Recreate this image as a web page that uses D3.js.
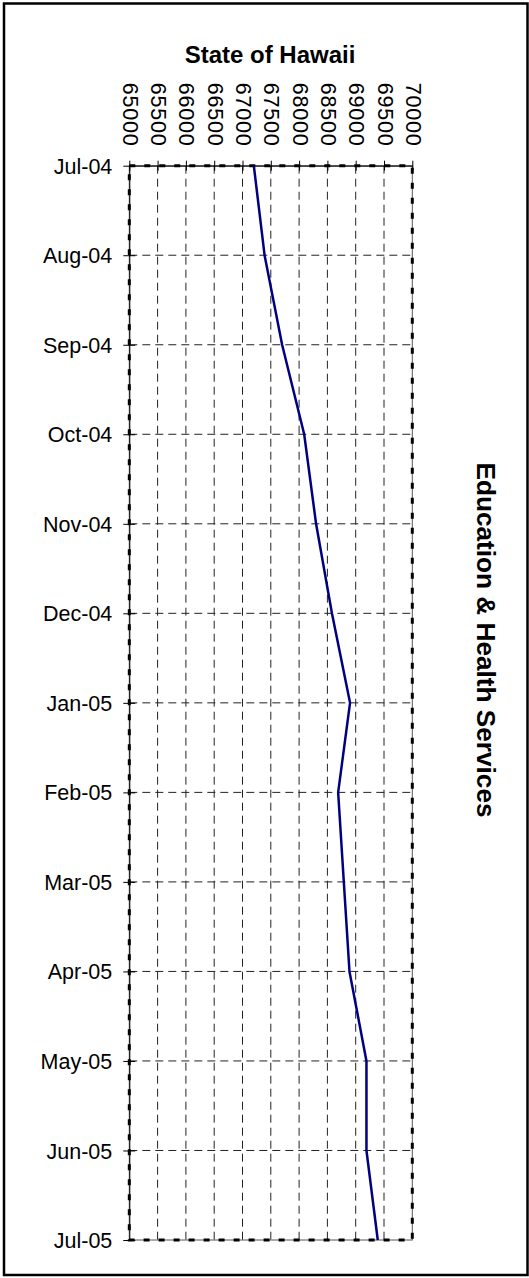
<!DOCTYPE html>
<html>
<head>
<meta charset="utf-8">
<script src="https://cdn.jsdelivr.net/npm/d3@7"></script>
<style>
  html, body { margin: 0; padding: 0; background: #fff; }
  svg { display: block; }
</style>
</head>
<body>
<svg id="chart" width="529" height="1278"></svg>
<script>
const months = ["Jul-04","Aug-04","Sep-04","Oct-04","Nov-04","Dec-04","Jan-05","Feb-05","Mar-05","Apr-05","May-05","Jun-05","Jul-05"];
const employment = [67200, 67390, 67700, 68090, 68300, 68580, 68900, 68690, 68790, 68890, 69190, 69190, 69390];
const xTicks = [65000, 65500, 66000, 66500, 67000, 67500, 68000, 68500, 69000, 69500, 70000];
const chartTitle = "State of Hawaii";
const sideTitle = "Education & Health Services";

const svg = d3.select("#chart");
const plot = { left: 129.3, right: 412.3, top: 165.7, bottom: 1240 };

const x = d3.scaleLinear().domain([65000, 70000]).range([plot.left, plot.right]);
const y = d3.scalePoint().domain(months).range([plot.top, plot.bottom]);

// outer border
svg.append("rect")
  .attr("x", 4).attr("y", 3.5).attr("width", 523.5).attr("height", 1271.5)
  .attr("fill", "#fff").attr("stroke", "#000").attr("stroke-width", 2.5);

// grid lines
const grid = svg.append("g");
grid.selectAll("line.v").data(xTicks.slice(1, -1)).join("line")
  .attr("x1", d => x(d)).attr("x2", d => x(d))
  .attr("y1", plot.top).attr("y2", plot.bottom)
  .attr("stroke", "#222").attr("stroke-width", 1).attr("stroke-dasharray", "8,5");
grid.selectAll("line.h").data(months.slice(1, -1)).join("line")
  .attr("x1", plot.left).attr("x2", plot.right)
  .attr("y1", d => y(d)).attr("y2", d => y(d))
  .attr("stroke", "#222").attr("stroke-width", 1).attr("stroke-dasharray", "8,5");

// plot area border: thin line + thick dashes
svg.append("rect")
  .attr("x", plot.left).attr("y", plot.top)
  .attr("width", plot.right - plot.left).attr("height", plot.bottom - plot.top)
  .attr("fill", "none").attr("stroke", "#555").attr("stroke-width", 1);
svg.append("rect")
  .attr("x", plot.left).attr("y", plot.top)
  .attr("width", plot.right - plot.left).attr("height", plot.bottom - plot.top)
  .attr("fill", "none").attr("stroke", "#000").attr("stroke-width", 3)
  .attr("stroke-dasharray", "6,9");

// top axis
const xAxis = d3.axisTop(x).tickValues(xTicks).tickSize(0).tickFormat(d3.format("d"));
const gx = svg.append("g").attr("transform", `translate(0,${plot.top})`).call(xAxis);
gx.select(".domain").attr("stroke", "#000").attr("stroke-width", 1);
gx.selectAll(".tick").append("line")
  .attr("y1", -5).attr("y2", 5).attr("stroke", "#000").attr("stroke-width", 1);
gx.selectAll(".tick text")
  .attr("font-family", "Liberation Sans, Arial, sans-serif")
  .attr("font-size", 21.5).attr("fill", "#000")
  .attr("text-anchor", "end")
  .attr("dominant-baseline", "central")
  .attr("textLength", 63).attr("lengthAdjust", "spacing")
  .attr("transform", "translate(0,-20) rotate(90)")
  .attr("x", 0).attr("y", 0).attr("dy", null);

// left axis
const yAxis = d3.axisLeft(y).tickSize(0);
const gy = svg.append("g").attr("transform", `translate(${plot.left},0)`).call(yAxis);
gy.select(".domain").attr("stroke", "#000").attr("stroke-width", 1);
gy.selectAll(".tick").append("line")
  .attr("x1", -6).attr("x2", 6).attr("stroke", "#000").attr("stroke-width", 1);
gy.selectAll(".tick text")
  .attr("font-family", "Liberation Sans, Arial, sans-serif")
  .attr("font-size", 21.5).attr("fill", "#000")
  .attr("x", -17).attr("dy", "0.35em");

// series line
const line = d3.line().x(d => x(d.v)).y(d => y(d.m));
svg.append("path")
  .datum(months.map((m, i) => ({ m, v: employment[i] })))
  .attr("d", line)
  .attr("fill", "none").attr("stroke", "#000080").attr("stroke-width", 2.5)
  .attr("stroke-linejoin", "round");

// titles
svg.append("text")
  .attr("x", 270).attr("y", 63)
  .attr("text-anchor", "middle")
  .attr("font-family", "Liberation Sans, Arial, sans-serif")
  .attr("font-weight", "bold").attr("font-size", 24)
  .text(chartTitle);

svg.append("text")
  .attr("transform", "translate(477,640) rotate(90)")
  .attr("text-anchor", "middle")
  .attr("font-family", "Liberation Sans, Arial, sans-serif")
  .attr("font-weight", "bold").attr("font-size", 26.2)
  .text(sideTitle);
</script>
</body>
</html>
